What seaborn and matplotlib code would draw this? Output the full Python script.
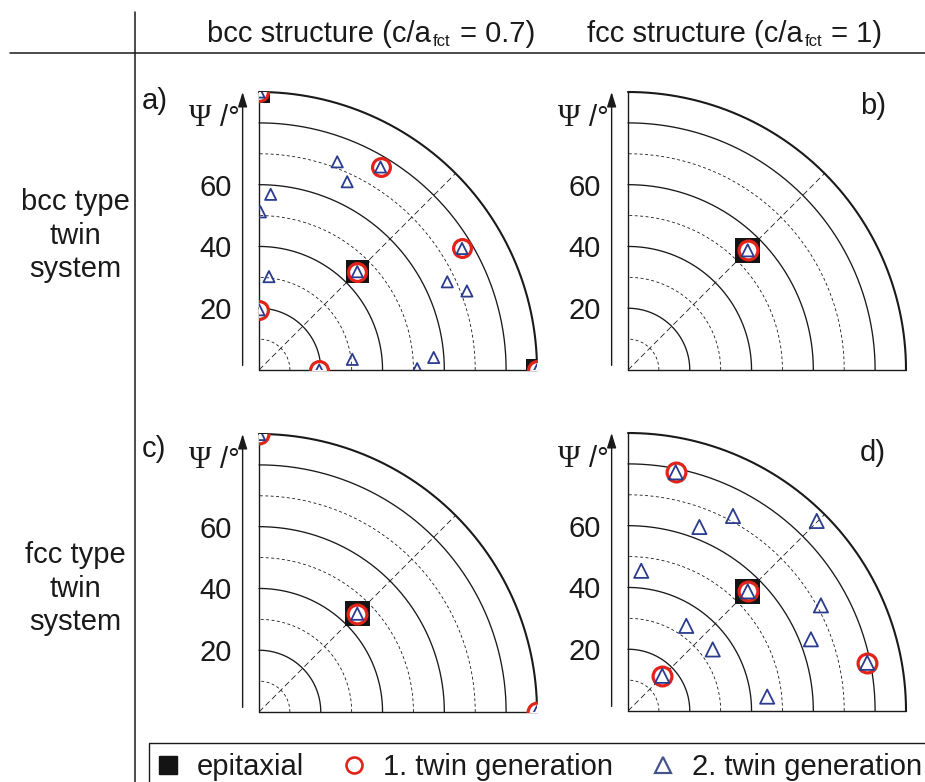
import numpy as np
import pandas as pd
import matplotlib
matplotlib.use("Agg")
import matplotlib.pyplot as plt
import seaborn as sns
from matplotlib.lines import Line2D

# ---------------- data ----------------
col_title_parts = [("bcc structure (c/a", "fct", " = 0.7)"),
                   ("fcc structure (c/a", "fct", " = 1)")]
row_titles = ["bcc type\ntwin\nsystem", "fcc type\ntwin\nsystem"]
panel_labels = ["a)", "b)", "c)", "d)"]
psi_ticks = [20, 40, 60]
legend_labels = ["epitaxial", "1. twin generation", "2. twin generation"]

# panel a  (psi = radius in deg, phi = azimuth in deg)
a_epi_psi = [90, 45, 90]
a_epi_phi = [90, 45, 0]
a_tw1_psi = [90, 76.6, 45, 76.6, 19.5, 19.5, 90]
a_tw1_phi = [90, 59.1, 45, 30.9, 90, 0, 0]
a_tw2_psi = [90, 76.6, 45, 76.6, 19.5, 19.5, 90, 72.0, 67.3, 57.0, 51.2, 30.4, 72.0, 67.3, 56.7, 51.2, 30.4]
a_tw2_phi = [90, 59.1, 45, 30.9, 90, 0, 0, 69.4, 64.9, 86.2, 89.5, 83.9, 20.8, 25.1, 4.1, 0.5, 6.5]

# panel b
b_epi_psi = [54.8]
b_epi_phi = [45]
b_tw1_psi = [54.8]
b_tw1_phi = [45]
b_tw2_psi = [54.8]
b_tw2_phi = [45]

# panel c
c_epi_psi = [45]
c_epi_phi = [45]
c_tw1_psi = [90, 45, 90]
c_tw1_phi = [90, 45, 0]
c_tw2_psi = [90, 45, 90]
c_tw2_phi = [90, 45, 0]

# panel d
d_epi_psi = [54.8]
d_epi_phi = [45]
d_tw1_psi = [54.8, 78.8, 79.0, 15.9]
d_tw1_phi = [45, 78.7, 11.4, 45.8]
d_tw2_psi = [54.8, 78.8, 79.0, 15.9, 45.6, 63.9, 71.7, 86.7, 71.2, 63.6, 45.3, 33.4, 33.9]
d_tw2_phi = [45, 78.7, 11.4, 45.8, 84.6, 68.8, 61.7, 45.2, 28.7, 21.4, 5.9, 55.6, 36.0]

panels = [
    (a_epi_psi, a_epi_phi, a_tw1_psi, a_tw1_phi, a_tw2_psi, a_tw2_phi),
    (b_epi_psi, b_epi_phi, b_tw1_psi, b_tw1_phi, b_tw2_psi, b_tw2_phi),
    (c_epi_psi, c_epi_phi, c_tw1_psi, c_tw1_phi, c_tw2_psi, c_tw2_phi),
    (d_epi_psi, d_epi_phi, d_tw1_psi, d_tw1_phi, d_tw2_psi, d_tw2_phi),
]

# ---------------- style ----------------
sns.set_theme(style="white")
plt.rcParams["font.family"] = ["Liberation Sans", "DejaVu Sans"]

RED = "#e2231a"
BLUE = "#2b3c8f"
BLACK = "#141414"
TXT = "#1a1a1a"
FS = 21

W, H = 925, 782
fig = plt.figure(figsize=(W / 100, H / 100), dpi=100)

R_PX = 278
origins = [(259, 370), (628, 370), (259, 712), (628, 711)]
# marker sizes (px): square side, circle outer, triangle outer
msizes = [(23, 21, 13), (25, 22, 14), (25, 22, 14), (25, 22, 16)]
label_pos = [(-38, 87.1), (75.1, 85.5), (-38, 85.1), (75.1, 83.5)]


def px2pt(p):
    return p / 1.389


def to_xy(psi, phi):
    psi = np.asarray(psi, float)
    ph = np.deg2rad(np.asarray(phi, float))
    return psi * np.cos(ph), psi * np.sin(ph)


t = np.linspace(0, np.pi / 2, 300)
for i, (ox, oy) in enumerate(origins):
    ax = fig.add_axes([ox / W, (H - oy) / H, R_PX / W, R_PX / H])
    ax.set_xlim(0, 90)
    ax.set_ylim(0, 90)
    ax.set_aspect("equal")
    for s in ax.spines.values():
        s.set_visible(False)
    ax.grid(False)

    # grid arcs
    for r in range(10, 91, 10):
        if r == 90:
            lw, ls = 1.5, "-"
        elif r % 20 == 0:
            lw, ls = 0.95, "-"
        else:
            lw, ls = 0.6, (0, (3.5, 3))
        ax.plot(r * np.cos(t), r * np.sin(t), color="k", lw=lw, ls=ls,
                clip_on=False, zorder=1)
    ax.plot([0, 90 * np.cos(np.pi / 4)], [0, 90 * np.sin(np.pi / 4)],
            color="k", lw=0.6, ls=(0, (7, 4)), zorder=1)
    ax.plot([0, 0], [0, 90], color="k", lw=1.0, clip_on=False, zorder=1)
    ax.plot([0, 90], [0, 0], color="k", lw=1.0, clip_on=False, zorder=1)

    epi_psi, epi_phi, tw1_psi, tw1_phi, tw2_psi, tw2_phi = panels[i]
    sq, ci, tri = msizes[i]

    x, y = to_xy(epi_psi, epi_phi)
    sns.scatterplot(x=x, y=y, marker="s", s=px2pt(sq) ** 2, color=BLACK,
                    edgecolor="none", linewidth=0, ax=ax, legend=False, zorder=3)

    x, y = to_xy(tw1_psi, tw1_phi)
    sns.scatterplot(x=x, y=y, marker="o", s=px2pt(ci - 3.2) ** 2, color=RED,
                    edgecolor=RED, linewidth=px2pt(3.2), ax=ax, legend=False, zorder=4)
    ax.collections[-1].set_facecolor((1, 1, 1, 1))

    x, y = to_xy(tw2_psi, tw2_phi)
    sns.scatterplot(x=x, y=y, marker="^", s=px2pt(tri - 1.8) ** 2, color=BLUE,
                    edgecolor=BLUE, linewidth=1.3, ax=ax, legend=False, zorder=5)
    ax.collections[-1].set_facecolor("none")

    ax.set_xticks([])
    ax.set_yticks(psi_ticks)
    ax.set_yticklabels([str(v) for v in psi_ticks])
    ax.tick_params(axis="y", length=0, pad=19.5, labelsize=FS, labelcolor=TXT)
    ax.set_xlabel("")
    ax.set_ylabel("")

    # psi arrow
    ax.annotate("", xy=(-5.3, 90), xytext=(-5.3, 1.5),
                arrowprops=dict(arrowstyle="-|>,head_length=0.9,head_width=0.28",
                                color="k", lw=1.0, shrinkA=0, shrinkB=0,
                                mutation_scale=10),
                annotation_clip=False)
    ax.text(-19.1, 81.5, "Ψ", fontsize=FS + 1, family=["Liberation Serif", "DejaVu Serif"],
            ha="center", va="center", color=TXT)
    ax.text(-12.5, 81.5, "/°", fontsize=FS, ha="left", va="center", color=TXT)

    lx, ly = label_pos[i]
    ax.text(lx, ly, panel_labels[i], fontsize=FS, ha="left", va="center",
            color=TXT, clip_on=False)

# headers
fig.add_artist(Line2D([10 / W, 1], [1 - 53 / H, 1 - 53 / H], color="k", lw=1.1))
fig.add_artist(Line2D([135 / W, 135 / W], [0, 1 - 12 / H], color="k", lw=1.1))

renderer = fig.canvas.get_renderer()
for (main, sub, tail), x0 in zip(col_title_parts, [207, 587]):
    t1 = fig.text(x0 / W, 1 - 42 / H, main, fontsize=FS, ha="left", va="baseline",
                  color=TXT)
    bb = t1.get_window_extent(renderer)
    t2 = fig.text((bb.x1 + 2) / W, 1 - 46 / H, sub, fontsize=12, ha="left",
                  va="baseline", color=TXT)
    bb2 = t2.get_window_extent(renderer)
    fig.text((bb2.x1 + 1) / W, 1 - 42 / H, tail, fontsize=FS, ha="left",
             va="baseline", color=TXT)

# row labels (va="baseline" aligns the last line's baseline)
fig.text(75 / W, 1 - 277 / H, row_titles[0], fontsize=FS, ha="center", va="baseline",
         multialignment="center", linespacing=1.24, color=TXT)
fig.text(75 / W, 1 - 630 / H, row_titles[1], fontsize=FS, ha="center", va="baseline",
         multialignment="center", linespacing=1.24, color=TXT)

# legend
handles = [
    Line2D([], [], marker="s", linestyle="none", markersize=px2pt(18),
           markerfacecolor=BLACK, markeredgecolor=BLACK),
    Line2D([], [], marker="o", linestyle="none", markersize=px2pt(16),
           markerfacecolor="none", markeredgecolor=RED, markeredgewidth=1.9),
    Line2D([], [], marker="^", linestyle="none", markersize=px2pt(17),
           markerfacecolor="none", markeredgecolor="#45558a", markeredgewidth=1.6),
]
leg = fig.legend(handles, legend_labels, loc="upper left",
                 bbox_to_anchor=(149 / W, 1 - 743 / H), ncol=3, frameon=True,
                 fancybox=False, edgecolor="k", framealpha=1, fontsize=FS,
                 handlelength=0.6, handletextpad=0.7, columnspacing=1.4,
                 borderpad=0.35, borderaxespad=0)
leg.get_frame().set_linewidth(1.0)
for txt in leg.get_texts():
    txt.set_color(TXT)

fig.savefig("out.png", dpi=100)
